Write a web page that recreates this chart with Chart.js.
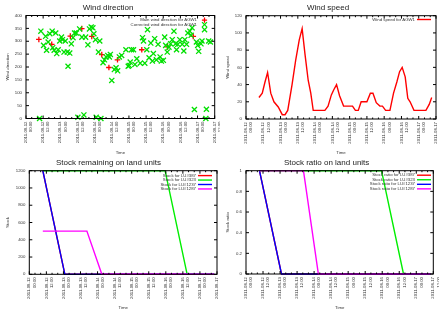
<!DOCTYPE html>
<html>
<head>
<meta charset="utf-8">
<script src="https://cdn.jsdelivr.net/npm/chart.js@4/dist/chart.umd.min.js"></script>
<style>
  body { margin: 0; background: #fff; width: 439px; height: 310px; overflow: hidden; position: relative; }
  canvas { position: absolute; }
</style>
</head>
<body>
<canvas id="dir" width="220" height="155" style="left:0;top:0"></canvas>
<canvas id="speed" width="219" height="155" style="left:220px;top:0"></canvas>
<canvas id="stock" width="220" height="155" style="left:0;top:155px"></canvas>
<canvas id="ratio" width="219" height="155" style="left:220px;top:155px"></canvas>
<script>
// time is in hours since 2011-08-12 00:00
const mainDirHours  = [9, 18, 31, 39, 46, 53, 58, 64, 81, 99, 117];
const mainDirValues = [307, 288, 320, 349, 319, 248, 198, 228, 267, 278, 319];

const corrDirHours = [9.5, 10.4, 12.3, 13.7, 14.4, 15.5, 16.7, 18.3, 18.7, 19.7, 20.8, 21.5, 22.5, 23.6,
  24.8, 25.5, 26.6, 27.5, 28.9, 29.4, 30.6, 31.7, 32.9, 34, 35.2, 36.3, 37.5, 39.1, 40.5, 41.7,
  43.3, 44.4, 45.6, 46.8, 47.5, 48.6, 49.1, 50.7, 51.6, 52.4, 53.9, 54.9, 56, 57.2, 58.3, 59,
  60, 61.8, 63, 64.1, 65.3, 66.9, 69.9, 71.5, 72.2, 72.9, 73.8, 75.2, 76.2, 77.5, 79.9, 81.5,
  82.2, 83.1, 84.5, 85, 86.1, 87.3, 88.4, 89.1, 90, 91.2, 92.4, 93.8, 94.7, 96.1, 97, 97.7,
  98.8, 100, 101.2, 102.3, 103.5, 104.6, 105.3, 106.2, 107.6, 109.3, 110.4, 111.1, 112.3, 113.2,
  114.6, 115.5, 116.2, 117.8, 119.2, 120.1, 120.8, 122.4, 123.1, 124.9, 125.8, 126.2, 127.8, 129];
const corrDirValues = [0, 339, 284, 319, 265, 297, 329, 339, 275, 265, 332, 252, 267, 301,
  316, 306, 258, 301, 258, 203, 254, 290, 314, 332, 332, 5, 348, 316, 14, 316,
  286, 348, 355, 352, 329, 306, 5, 258, 301, 0, 217, 228, 239, 245, 239, 249,
  148, 190, 197, 185, 239, 245, 267, 203, 206, 219, 267, 267, 210, 232, 215, 314,
  301, 215, 267, 345, 236, 293, 223, 252, 310, 228, 288, 239, 223, 226, 316, 284,
  258, 277, 290, 306, 339, 290, 267, 288, 306, 288, 262, 306, 288, 332,
  339, 323, 352, 35, 297, 284, 261, 290, 301, 345, 0, 36, 301, 297];

const speedHours  = [9, 11.3, 13.2, 15, 17.2, 19.4, 22.4, 25.2, 27.1, 29, 32, 34.5, 37, 39, 41, 43.2,
  45, 46.7, 54.8, 57, 59.3, 61, 62.9, 65, 67.8, 74, 76, 78, 80, 84, 86.4, 88.2, 90.5, 93, 94.8,
  97, 100, 102.5, 104.8, 106.7, 108.5, 110.6, 112.4, 114, 116.7, 125, 127.3, 129];
const speedValues = [25, 30, 43, 54, 30, 20, 14, 5, 5, 10, 40, 68, 92, 105, 75, 45,
  30, 10, 10, 15, 28, 34, 40, 27, 15, 15, 10, 10, 20, 20, 30, 30, 19, 15, 15,
  10, 10, 30, 43, 55, 60, 49, 24, 20, 10, 10, 17, 25];

const units = ["LU#387", "LU#323", "LU#1237", "LU#1287"];
const unitColors = ["#ff0000", "#00ee00", "#0000ff", "#ff00ff"];
const stockHours  = [[9.5, 25, 130], [9.5, 95.5, 111, 130], [9.5, 25, 130], [9.5, 40.5, 51, 130]];
const stockValues = [[1200, 0, 0], [1200, 1200, 0, 0], [1200, 0, 0], [500, 500, 0, 0]];
const ratioValues = [[1, 0, 0], [1, 1, 0, 0], [1, 0, 0], [1, 1, 0, 0]];

const $ = (id) => document.getElementById(id);
const PANEL_H = 155;
const SMALL = 4.3;
Chart.defaults.font.family = "'Liberation Sans', Arial, sans-serif";
Chart.defaults.color = "#333";

const pts = (xs, ys) => xs.map((x, i) => ({ x, y: ys[i] }));
const timeLabel = (h) => {
  const day = 12 + Math.floor(h / 24);
  return ["2011-08-" + day, String(h % 24).padStart(2, "0") + ":00"];
};

// gnuplot-ish border with inward ticks, plus a key drawn inside the plot
const gnuFrame = {
  id: "gnuFrame",
  afterDraw(chart, args, opts) {
    const { ctx, chartArea: a, scales } = chart;
    ctx.save();
    ctx.strokeStyle = "#000";
    ctx.lineWidth = 1;
    ctx.strokeRect(a.left, a.top, a.right - a.left, a.bottom - a.top);
    ctx.beginPath();
    for (const t of scales.y.ticks) {
      const py = scales.y.getPixelForValue(t.value);
      ctx.moveTo(a.left, py); ctx.lineTo(a.left + 3, py);
      ctx.moveTo(a.right, py); ctx.lineTo(a.right - 3, py);
    }
    for (let h = 0; h <= 132; h += 4) {
      const px = scales.x.getPixelForValue(h);
      const len = h % 12 === 0 ? 3 : 1.5;
      ctx.moveTo(px, a.bottom); ctx.lineTo(px, a.bottom - len);
      ctx.moveTo(px, a.top); ctx.lineTo(px, a.top + len);
    }
    ctx.stroke();

    const k = opts.key;
    ctx.font = SMALL + "px 'Liberation Sans', Arial, sans-serif";
    ctx.textAlign = "right";
    ctx.textBaseline = "middle";
    chart.data.datasets.forEach((ds, i) => {
      const y = k.y0 + i * k.dy;
      ctx.fillStyle = "#333";
      ctx.fillText(ds.label, k.x0 - 2, y);
      ctx.strokeStyle = ds.borderColor;
      ctx.lineWidth = ds.showLine === false ? 1.3 : 1.4;
      ctx.beginPath();
      if (ds.showLine === false) {
        const cx = (k.x0 + k.x1) / 2, r = ds.pointStyle === "cross" ? 2.6 : 2.5;
        if (ds.pointStyle === "cross") {
          ctx.moveTo(cx - r, y); ctx.lineTo(cx + r, y);
          ctx.moveTo(cx, y - r); ctx.lineTo(cx, y + r);
        } else {
          ctx.moveTo(cx - r, y - r); ctx.lineTo(cx + r, y + r);
          ctx.moveTo(cx - r, y + r); ctx.lineTo(cx + r, y - r);
        }
      } else {
        ctx.moveTo(k.x0, y); ctx.lineTo(k.x1, y);
      }
      ctx.stroke();
    });
    ctx.restore();
  },
};

function makeChart(id, geo, setup) {
  const cv = $(id);
  const axisTitle = (text, pad) => ({ display: true, text, color: "#333", font: { size: SMALL }, padding: { top: pad, bottom: 0 } });
  return new Chart(cv, {
    type: "line",
    data: { datasets: setup.datasets },
    plugins: [gnuFrame],
    options: {
      responsive: false,
      animation: false,
      events: [],
      layout: { padding: { left: 0, right: cv.width - geo.R, top: 0, bottom: 0 } },
      plugins: {
        legend: { display: false },
        tooltip: { enabled: false },
        title: {
          display: true, text: setup.title, color: "#222",
          font: { size: 8, weight: "normal" },
          padding: { top: 2.5, bottom: geo.T - 12.1 },
        },
        gnuFrame: { key: setup.key },
      },
      scales: {
        x: {
          type: "linear", min: 0, max: 132,
          afterFit: (s) => { s.height = PANEL_H - geo.B; s.paddingLeft = 0; s.paddingRight = 0; },
          ticks: {
            stepSize: 12, autoSkip: false, maxRotation: 90, minRotation: 90, padding: 3,
            font: { size: SMALL }, callback: (v) => timeLabel(v),
          },
          grid: { display: false, drawTicks: false },
          border: { display: false },
          title: axisTitle("Time", 0),
        },
        y: {
          min: setup.yMin, max: setup.yMax,
          afterFit: (s) => { s.width = geo.L; s.paddingTop = 0; s.paddingBottom = 0; },
          ticks: { stepSize: setup.yStep, padding: 4, font: { size: SMALL }, callback: (v) => String(v) },
          grid: { display: false, drawTicks: false },
          border: { display: false },
          title: axisTitle(setup.yTitle, 5.5),
        },
      },
    },
  });
}

makeChart("dir", { L: 26, R: 216, T: 15.5, B: 118.5 }, {
  title: "Wind direction", yTitle: "Wind direction", yMin: 0, yMax: 400, yStep: 50,
  key: { x0: 199, x1: 210, y0: 20.2, dy: 4.4 },
  datasets: [
    { label: "Main wind direction for AGW1", data: pts(mainDirHours, mainDirValues), showLine: false,
      pointStyle: "cross", pointRadius: 2.8, pointBorderWidth: 1.3, borderColor: "#ff0000", order: 2, clip: false },
    { label: "Corrected wind direction for AGW1", data: pts(corrDirHours, corrDirValues), showLine: false,
      pointStyle: "crossRot", pointRadius: 3.6, pointBorderWidth: 1.3, borderColor: "#00e000", order: 1, clip: false },
  ],
});

makeChart("speed", { L: 26, R: 216, T: 15.7, B: 119 }, {
  title: "Wind speed", yTitle: "Wind speed", yMin: 0, yMax: 120, yStep: 20,
  key: { x0: 197, x1: 211, y0: 19.5, dy: 4.4 },
  datasets: [
    { label: "Wind speed for AGW1", data: pts(speedHours, speedValues), borderColor: "#ff0000",
      borderWidth: 1.4, pointRadius: 0, tension: 0 },
  ],
});

const stockSets = (values, prefix) => units.map((u, i) => ({
  label: prefix + u, data: pts(stockHours[i], values[i]), borderColor: unitColors[i],
  borderWidth: 1.4, pointRadius: 0, tension: 0, order: 4 - i, clip: false,
}));

makeChart("stock", { L: 29.3, R: 217, T: 15.7, B: 119.3 }, {
  title: "Stock remaining on land units", yTitle: "Stock", yMin: 0, yMax: 1200, yStep: 200,
  key: { x0: 198, x1: 212, y0: 20.6, dy: 4.45 },
  datasets: stockSets(stockValues, "Stock for "),
});

makeChart("ratio", { L: 26, R: 213.3, T: 15.7, B: 119 }, {
  title: "Stock ratio on land units", yTitle: "Stock ratio", yMin: 0, yMax: 1, yStep: 0.2,
  key: { x0: 197, x1: 211, y0: 20.2, dy: 4.55 },
  datasets: stockSets(ratioValues, "Stock ratio for "),
});
</script>
</body>
</html>
